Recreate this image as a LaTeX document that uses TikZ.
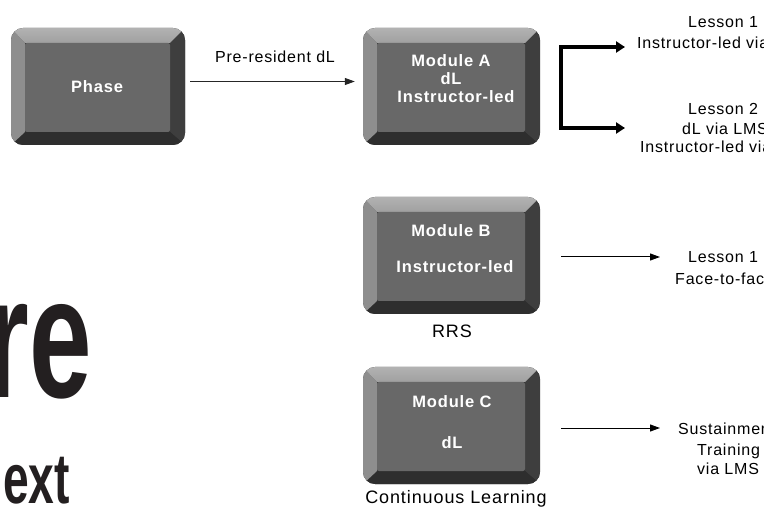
\documentclass[tikz,border=0pt]{standalone}
\usepackage{fontspec}
\setmainfont{Liberation Sans}[LetterSpace=5]
\newfontfamily\bigfam{Liberation Sans}
\usetikzlibrary{arrows.meta}
\definecolor{keyface}{HTML}{686868}
\definecolor{keytop}{HTML}{A0A0A0}
\definecolor{keytoplight}{HTML}{B2B2B2}
\definecolor{keyleft}{HTML}{8E8E8E}
\definecolor{keyright}{HTML}{3E3E3E}
\definecolor{keybottom}{HTML}{2E2E2E}
\definecolor{bigink}{HTML}{231F20}
\tikzset{
  keybox/.style={minimum width=#1, minimum height=117pt, inner sep=0pt,
    rounded corners=12pt, fill=keybottom,
    path picture={
      \path (path picture bounding box.north west) coordinate (kNW)
            (path picture bounding box.north east) coordinate (kNE)
            (path picture bounding box.south west) coordinate (kSW)
            (path picture bounding box.south east) coordinate (kSE);
      \fill[keyright, sharp corners] (kNE) -- (kSE) -- ([xshift=-15pt,yshift=13pt]kSE) -- ([xshift=-15pt,yshift=-15pt]kNE) -- cycle;
      \fill[keybottom, sharp corners] (kSW) -- (kSE) -- ([xshift=-15pt,yshift=13pt]kSE) -- ([xshift=14pt,yshift=13pt]kSW) -- cycle;
      \fill[keyleft, sharp corners] (kNW) -- (kSW) -- ([xshift=14pt,yshift=13pt]kSW) -- ([xshift=14pt,yshift=-15pt]kNW) -- cycle;
      \shade[top color=keytoplight, bottom color=keytop, sharp corners] (kNW) -- (kNE) -- ([xshift=-15pt,yshift=-15pt]kNE) -- ([xshift=14pt,yshift=-15pt]kNW) -- cycle;
      \fill[keyface, rounded corners=2pt] ([xshift=14pt,yshift=-15pt]kNW) rectangle ([xshift=-15pt,yshift=13pt]kSE);
    }},
  keytext/.style={anchor=base, inner sep=0pt, text=white, font=\fontsize{16.5}{18}\selectfont\bfseries},
  lbl/.style={anchor=base, inner sep=0pt, text=black, font=\fontsize{16}{18}\selectfont},
  caption/.style={lbl, font=\fontsize{18}{20}\selectfont},
  lblw/.style={lbl, anchor=base west},
  thinarrow/.style={line width=1pt, draw=black!85, -{Triangle[length=10pt,width=7pt]}},
  bracket/.style={line width=3.6pt, draw=black, line join=miter, {Triangle[length=9pt,width=11pt]}-{Triangle[length=9pt,width=11pt]}},
  bigword/.style={anchor=base east, inner sep=0pt, text=bigink}
}
\begin{document}
\begin{tikzpicture}[x=1pt, y=-1pt]
\useasboundingbox (0,0) rectangle (764,513);
\clip (0,0) rectangle (764,513);

% big partial words on the left
\node[bigword, font=\bigfam\fontsize{173}{173}\selectfont\bfseries] (bigre) at (92,398) {\scalebox{0.65}[1]{re}};
\node[bigword, font=\bigfam\fontsize{71}{71}\selectfont\bfseries] (bigext) at (70,503) {\scalebox{0.65}[1]{ext}};

% keys
\node[keybox=174pt] (phase) at (98,86.5) {};
\node[keybox=177pt] (modA) at (451.5,86.5) {};
\node[keybox=177pt] (modB) at (451.5,255.5) {};
\node[keybox=177pt] (modC) at (451.5,425.5) {};

% key texts
\node[keytext] (phaseT) at (97,93) {Phase};
\node[keytext] (modA1) at (451,67) {Module A};
\node[keytext] (modA2) at (451,85) {dL};
\node[keytext] (modA3) at (456,103) {Instructor-led};
\node[keytext] (modB1) at (451,237) {Module B};
\node[keytext] (modB2) at (455,273) {Instructor-led};
\node[keytext] (modC1) at (452,408) {Module C};
\node[keytext] (modC2) at (452,448) {dL};

% captions under keys
\node[caption] (rrs) at (452,338) {RRS};
\node[caption] (contl) at (456,503) {Continuous Learning};

% pre-resident connector
\draw[thinarrow] ([xshift=5pt,yshift=5pt]phase.east) -- ([xshift=-8pt,yshift=5pt]modA.west);
\node[lbl] (preres) at (275,63) {Pre-resident dL};

% bracket for module A lessons
\coordinate (brTopTip) at (625,47);
\coordinate (brTopCorner) at (561,47);
\coordinate (brBotCorner) at (561,128);
\coordinate (brBotTip) at (625,128);
\draw[bracket] (brTopTip) -- (brTopCorner) -- (brBotCorner) -- (brBotTip);

% module B and C connectors
\coordinate (bStart) at (561,257);
\coordinate (bEnd) at (660,257);
\draw[thinarrow, draw=black] (bStart) -- (bEnd);
\coordinate (cStart) at (561,428);
\coordinate (cEnd) at (660,428);
\draw[thinarrow, draw=black] (cStart) -- (cEnd);

% lesson texts (cut by the right edge)
\node[lblw] (la1) at (688,28) {Lesson 1};
\node[lblw] (la2) at (637,49) {Instructor-led via};
\node[lblw] (lb1) at (688,115) {Lesson 2};
\node[lblw] (lb2) at (682,135) {dL via LMS};
\node[lblw] (lb3) at (640,153) {Instructor-led via};
\node[lblw] (lc1) at (688,263) {Lesson 1};
\node[lblw] (lc2) at (675,285) {Face-to-face};
\node[lblw] (ld1) at (678,435) {Sustainment};
\node[lblw] (ld2) at (697,455) {Training};
\node[lblw] (ld3) at (697,475) {via LMS};
\end{tikzpicture}
\end{document}
